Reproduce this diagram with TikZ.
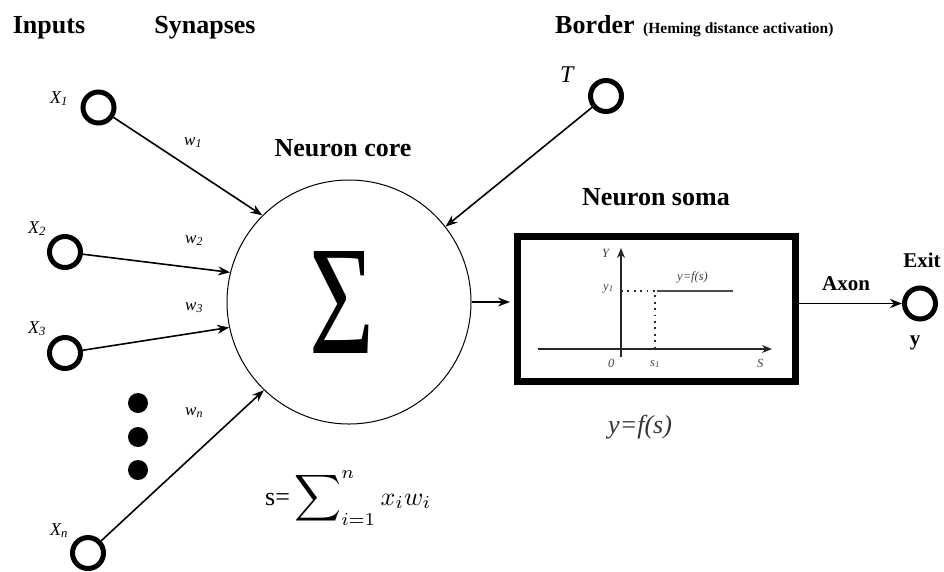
\documentclass[tikz,border=0pt]{standalone}
\usepackage{fontspec}
\setmainfont{Liberation Serif}
\usepackage{graphicx}
\usetikzlibrary{arrows.meta}

\begin{document}
\begin{tikzpicture}[
  x=1pt, y=-1pt,
  head/.style={font=\bfseries\fontsize{26}{30}\selectfont, inner sep=0pt, anchor=base},
  subhead/.style={font=\bfseries\fontsize{21}{24}\selectfont, inner sep=0pt, anchor=base},
  term/.style={circle, draw, line width=5pt, minimum size=31pt, inner sep=0pt},
  inlabel/.style={font=\itshape\fontsize{18}{20}\selectfont, inner sep=0pt, anchor=base west},
  weight/.style={font=\itshape\fontsize{17}{19}\selectfont, inner sep=0pt, anchor=base west},
  plotlabel/.style={font=\itshape\fontsize{12.5}{14}\selectfont, text=black!75, inner sep=0pt, anchor=base west},
  syn/.style={-{Stealth[length=12pt,width=9pt]}, line width=1.6pt},
  axis/.style={-{Stealth[length=10pt,width=8pt]}, line width=1.5pt, black!85},
  dot/.style={circle, fill, minimum size=20pt, inner sep=0pt}
]
\useasboundingbox (0,0) rectangle (944,571);

\node[head] (inputs) at (49,33) {Inputs};
\node[head] (synapses) at (205,33) {Synapses};
\node[head, anchor=base west] (border) at (555,33) {Border};
\node[font=\bfseries\fontsize{15.5}{17}\selectfont, inner sep=0pt, anchor=base west] (heming) at (643,33) {(Heming distance activation)};
\node[head] (corelabel) at (343,156) {Neuron core};
\node[head] (somalabel) at (656,205) {Neuron soma};

\node[circle, draw, line width=1pt, minimum size=244pt, inner sep=0pt] (core) at (349,302) {};
\node[inner sep=0pt] (sigma) at (342,302) {\resizebox{65pt}{102pt}{Σ}};

\node[term] (x1) at (98.5,107.5) {};
\node[term] (x2) at (65,252) {};
\node[term] (x3) at (65,353) {};
\node[term] (xn) at (88,553) {};
\node[term] (thr) at (606,96) {};

\node[inlabel] (x1label) at (50,103) {X\textsubscript{1}};
\node[inlabel] (x2label) at (28,233) {X\textsubscript{2}};
\node[inlabel] (x3label) at (28,333) {X\textsubscript{3}};
\node[inlabel] (xnlabel) at (50,535) {X\textsubscript{n}};
\node[font=\itshape\fontsize{24}{28}\selectfont, inner sep=0pt, anchor=base west] (tlabel) at (560,82) {T};

\node[weight] (w1) at (184,145) {w\textsubscript{1}};
\node[weight] (w2) at (185,243) {w\textsubscript{2}};
\node[weight] (w3) at (185,310) {w\textsubscript{3}};
\node[weight] (wn) at (185,415) {w\textsubscript{n}};

\foreach \yy [count=\i] in {403,437,470}
  \node[dot] (dot\i) at (138,\yy) {};

\draw[syn] (x1) -- (core.135);
\draw[syn] (x2) -- (core.166);
\draw[syn] (x3) -- (core.192);
\draw[syn] (xn) -- (core.226);
\draw[syn] (thr) -- (core.38);

\node[inner sep=0pt, anchor=base west] (sumformula) at (265,505) {\scalebox{2.6}{s=\,$\mathop{\vcenter{\hbox{\scalebox{1.25}{$\displaystyle\sum$}}}}\nolimits_{i=1}^{n} x_i w_i$}};

\node[draw, line width=7pt, minimum width=278pt, minimum height=145pt, inner sep=0pt] (soma) at (656,308.5) {};
\draw[syn, shorten >=3.5pt] (core.east) -- (core.east -| soma.west);

\coordinate (xstart) at (538,349);
\coordinate (xend) at (772,349);
\coordinate (ybot) at (621,357);
\coordinate (ytop) at (621,248);
\coordinate (s1) at (655,349);
\coordinate (y1) at (621,291);
\coordinate (stepa) at (657,291);
\coordinate (stepb) at (733,291);
\draw[axis] (xstart) -- (xend);
\draw[axis] (ybot) -- (ytop);
\draw[line width=1.8pt, dash pattern=on 1.8pt off 4.6pt, black!85] (y1) -- (s1 |- y1) -- (s1);
\draw[line width=2pt, black!70] (stepa) -- (stepb);

\node[plotlabel] (ylab) at (602,257) {Y};
\node[plotlabel] (y1lab) at (603,290) {y\textsubscript{1}};
\node[plotlabel] (flab) at (677,280) {y=f(s)};
\node[plotlabel] (olab) at (608,367) {0};
\node[plotlabel] (s1lab) at (650,366) {s\textsubscript{1}};
\node[plotlabel] (slab) at (757,367) {S};

\node[font=\itshape\fontsize{26}{30}\selectfont, text=black!80, inner sep=0pt, anchor=base west] (fout) at (608,433) {y=f(s)};

\node[term] (exitc) at (920,303.5) {};
\draw[syn] (soma.east |- exitc) -- (exitc);
\node[subhead] (axon) at (846,290) {Axon};
\node[subhead] (exitlabel) at (922,267) {Exit};
\node[subhead] (ylabel) at (915,345) {y};
\end{tikzpicture}
\end{document}
